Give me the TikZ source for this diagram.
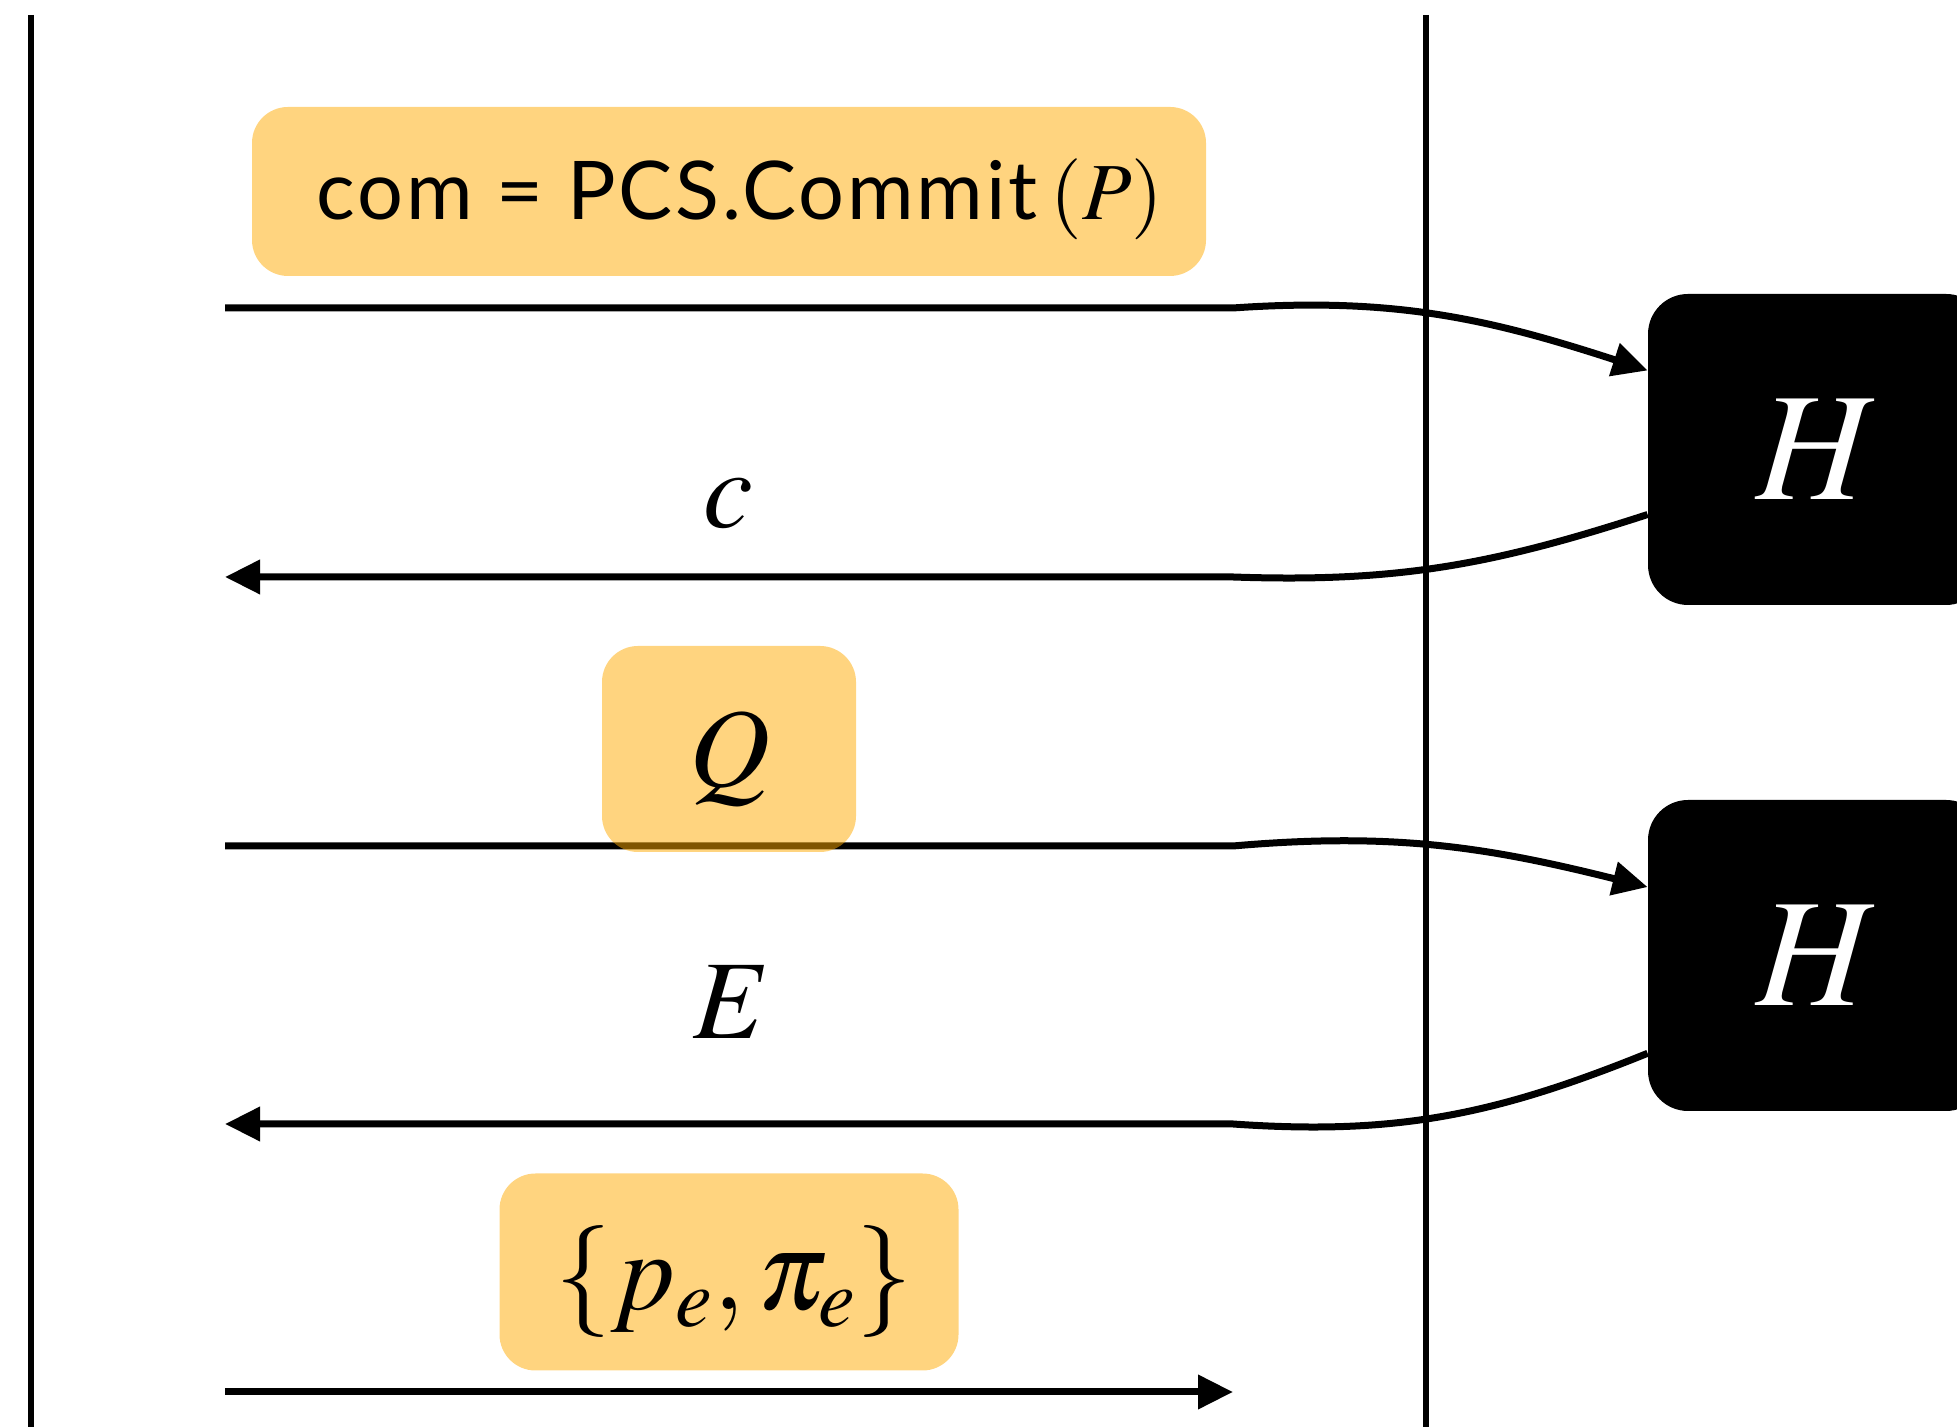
\documentclass[tikz,border=0pt]{standalone}
\usepackage{mathptmx}
\usepackage[no-math]{fontspec}
\setsansfont{Lato}[LetterSpace=3.5]
\usepackage{tikz}
\usetikzlibrary{arrows.meta}
\definecolor{msgorange}{rgb}{1.0, 0.667, 0.0}

\begin{document}
\begin{tikzpicture}[x=0.5pt,y=0.5pt]
  \tikzset{MsgBoxStyle/.style = {
    shape           = rectangle,
    fill            = msgorange,
    fill opacity    = 0.5,
    text opacity    = 1,
    rounded corners = 18pt,
    inner sep       = 0pt,
    text            = black
    }
  }
  \tikzset{OracleStyle/.style = {
    shape           = rectangle,
    fill            = black,
    text            = white,
    rounded corners = 20pt,
    inner sep       = 0pt,
    minimum width   = 169pt,
    minimum height  = 155.5pt,
    font            = \fontsize{77}{80}\selectfont
    }
  }
  \tikzset{LabelStyle/.style = {
    inner sep = 0pt,
    font      = \fontsize{56}{60}\selectfont
    }
  }
  \tikzset{WireStyle/.style = {
    draw       = black,
    line width = 3.5pt
    }
  }
  \tikzset{TipStyle/.style = {
    -{Triangle[length=17.5pt,width=16.5pt]}
    }
  }

  \useasboundingbox (0,0) rectangle (1957,1427);

  % the two parties' time lines
  \coordinate (proverTop) at (31,1412);
  \coordinate (proverBot) at (31,0);
  \coordinate (verifTop) at (1426,1412);
  \coordinate (verifBot) at (1426,0);
  \draw[line width=2.75pt] (proverTop) -- (proverBot);
  \draw[line width=2.75pt] (verifTop) -- (verifBot);

  % random oracles
  \node[OracleStyle](hashA) at (1817,977.5) {$H$};
  \node[OracleStyle](hashB) at (1817,471.5) {$H$};

  % message wires
  \coordinate (w1s) at (225,1119); \coordinate (w1e) at (1233,1119);
  \coordinate (w2s) at (225,850);  \coordinate (w2e) at (1233,850);
  \coordinate (w3s) at (225,581);  \coordinate (w3e) at (1233,581);
  \coordinate (w4s) at (225,303);  \coordinate (w4e) at (1233,303);
  \coordinate (w5s) at (225,35);   \coordinate (w5e) at (1233,35);

  \draw[WireStyle,TipStyle](w1s) -- (w1e) to[out=4,in=162] (hashA.155);
  \draw[WireStyle,TipStyle](hashA.201) to[out=198,in=-2] (w2e) -- (w2s);
  \draw[WireStyle,TipStyle](w3s) -- (w3e) to[out=5,in=166] (hashB.158);
  \draw[WireStyle,TipStyle](hashB.210) to[out=202,in=-4] (w4e) -- (w4s);
  \draw[WireStyle,TipStyle](w5s) -- (w5e);

  % messages
  \node[MsgBoxStyle,minimum width=477pt,minimum height=84.5pt](commit) at (729,1235.5) {};
  \node[font=\fontsize{40.5}{44}\selectfont,inner sep=0pt](commitText) at (740,1228)
    {{\sffamily com = PCS.Commit\,}$(P)$};
  \node[LabelStyle](chal) at (728,923) {$c$};
  \node[MsgBoxStyle,minimum width=127pt,minimum height=103pt](query) at (729,678) {};
  \node[LabelStyle](queryText) at (730,668) {$Q$};
  \node[LabelStyle](eval) at (732,425) {$E$};
  \node[MsgBoxStyle,minimum width=229.5pt,minimum height=98.5pt](open) at (729,155) {};
  \node[LabelStyle](openText) at (734,145) {$\{p_e, \pi_e\}$};

\end{tikzpicture}
\end{document}
